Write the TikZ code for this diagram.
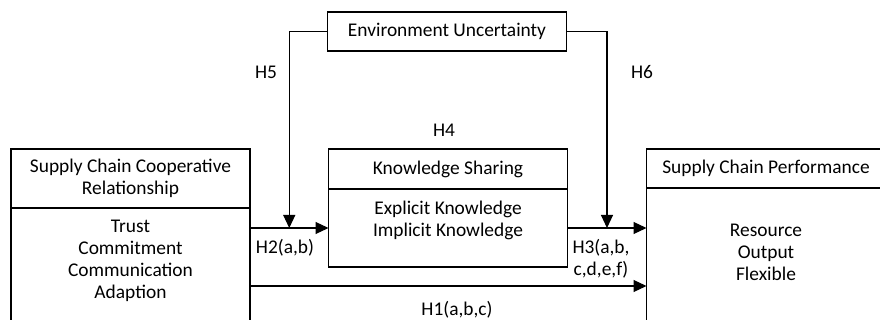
\documentclass[tikz,border=0pt]{standalone}
\usepackage{fontspec}
\setmainfont{Carlito}
\usepackage{tikz}
\usetikzlibrary{positioning, arrows.meta, calc}

\begin{document}
\begin{tikzpicture}[
 x=1pt, y=-1pt,
 node distance=0pt,
 every node/.style={font=\fontsize{19.4}{22}\selectfont},
 head/.style={rectangle, draw=black, line width=1.3pt, outer sep=0pt,
   minimum width=239pt, align=center},
 body/.style={rectangle, draw=black, line width=1.3pt, outer sep=0pt,
   minimum width=239pt},
 txt/.style={align=center, inner sep=0pt},
 arr/.style={-{Triangle[length=13pt,width=12pt]}, line width=1.1pt, draw=black}
]
\useasboundingbox (0,0) rectangle (880,320);
% moderator on top
\node[head, minimum height=39pt] (env) at (447,31.5) {Environment Uncertainty};
% three constructs
\node[head, minimum height=59pt] (relhead) at (130.5,178.5) {Supply Chain Cooperative\\Relationship};
\node[body, minimum height=117pt, below=of relhead] (relbody) {};
\node[txt] (reltxt) at (130.5,260.5) {Trust\\Commitment\\Communication\\Adaption};
\node[head, minimum height=40pt] (kshead) at (448,169) {Knowledge Sharing};
\node[body, minimum height=78pt, below=of kshead] (ksbody) {};
\node[txt] (kstxt) at (448,220) {Explicit Knowledge\\Implicit Knowledge};
\node[head, minimum height=39pt] (perfhead) at (766,168.5) {Supply Chain Performance};
\node[body, minimum height=137pt, below=of perfhead] (perfbody) {};
\node[txt] (perftxt) at (766,252) {Resource\\Output\\Flexible};
% joints on the paths
\coordinate (m5) at ($(ksbody.west -| relbody.east)!0.5!(ksbody.west)$);
\coordinate (m6) at ($(ksbody.east)!0.5!(ksbody.east -| perfbody.west)$);
\coordinate (h1) at ($(relbody.north east)+(0,78)$);
% paths
\draw[arr] (ksbody.west -| relbody.east) -- (ksbody.west);
\draw[arr] (ksbody.east) -- (ksbody.east -| perfbody.west);
\draw[arr] (h1) -- (h1 -| perfbody.west);
\draw[arr] (env.west) -| (m5);
\draw[arr] (env.east) -| (m6);
% hypotheses
\node (h5) at (266,72) {H5};
\node (h6) at (642,72) {H6};
\node (h4) at (444,130) {H4};
\node (h2) at (285,248) {H2(a,b)};
\node[align=center] (h3) at (601,259) {H3(a,b,\\c,d,e,f)};
\node (h1lab) at (457,310) {H1(a,b,c)};
\end{tikzpicture}
\end{document}
